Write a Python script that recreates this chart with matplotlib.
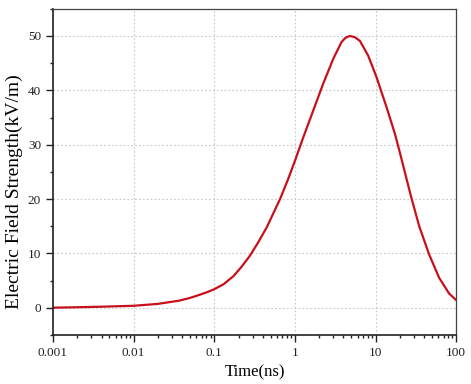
import matplotlib
matplotlib.use("Agg")
import matplotlib.pyplot as plt
from matplotlib.ticker import FixedLocator, LogLocator, NullFormatter, MultipleLocator

# values
time_ns = [0.001, 0.002, 0.004, 0.01, 0.02, 0.037, 0.05, 0.0667, 0.083, 0.1, 0.13,
           0.173, 0.22, 0.278, 0.35, 0.448, 0.655, 0.826, 1.0, 1.26, 1.69, 2.24,
           2.99, 3.79, 4.27, 4.81, 5.5, 6.4, 8.1, 10.3, 13.7, 17.4, 20.0, 27.4,
           34.8, 46.2, 61.5, 81.8, 100]
field_kvm = [0.0, 0.08, 0.18, 0.35, 0.7, 1.3, 1.8, 2.4, 2.9, 3.4, 4.3,
             5.8, 7.6, 9.6, 12.0, 14.8, 20.0, 23.7, 27.0, 31.2, 36.3, 41.2,
             45.8, 48.9, 49.7, 50.0, 49.8, 49.1, 46.4, 42.4, 36.9, 32.0, 28.6, 20.6,
             15.0, 9.8, 5.5, 2.6, 1.4]
xticks = [0.001, 0.01, 0.1, 1, 10, 100]
xtick_labels = ["0.001", "0.01", "0.1", "1", "10", "100"]
yticks = [0, 10, 20, 30, 40, 50]

plt.rcParams['font.family'] = ['Liberation Serif', 'DejaVu Serif']

fig = plt.figure(figsize=(4.71, 3.84), dpi=100)
ax = fig.add_axes([0.1125, 0.128, 0.856, 0.849])

ax.plot(time_ns, field_kvm, color='#c8101c', lw=1.6)

ax.set_xscale('log')
ax.set_xlim(0.001, 100)
ax.set_ylim(-5, 55)
ax.xaxis.set_major_locator(FixedLocator(xticks))
ax.set_xticklabels(xtick_labels)
ax.xaxis.set_minor_locator(LogLocator(base=10, subs=range(2, 10)))
ax.xaxis.set_minor_formatter(NullFormatter())
ax.set_yticks(yticks)
ax.yaxis.set_minor_locator(MultipleLocator(5))

ax.tick_params(which='major', direction='out', length=5, width=1, labelsize=9.5, colors='#222222')
ax.tick_params(which='minor', direction='out', length=2.5, width=1, colors='#222222')
ax.tick_params(top=False, right=False, which='both')

ax.grid(True, which='major', linestyle=(0, (1.5, 2)), color='#c8c8c8', lw=0.8)

for s in ['left', 'bottom']:
    ax.spines[s].set_linewidth(1.2)
    ax.spines[s].set_color('#222222')
for s in ['top', 'right']:
    ax.spines[s].set_linewidth(0.9)
    ax.spines[s].set_color('#444444')

ax.set_xlabel('Time(ns)', fontsize=12, labelpad=4)
ax.set_ylabel('Electric Field Strength(kV/m)', fontsize=14)
ax.yaxis.set_label_coords(-0.074, 0.44)

fig.savefig('out.png', dpi=100)
